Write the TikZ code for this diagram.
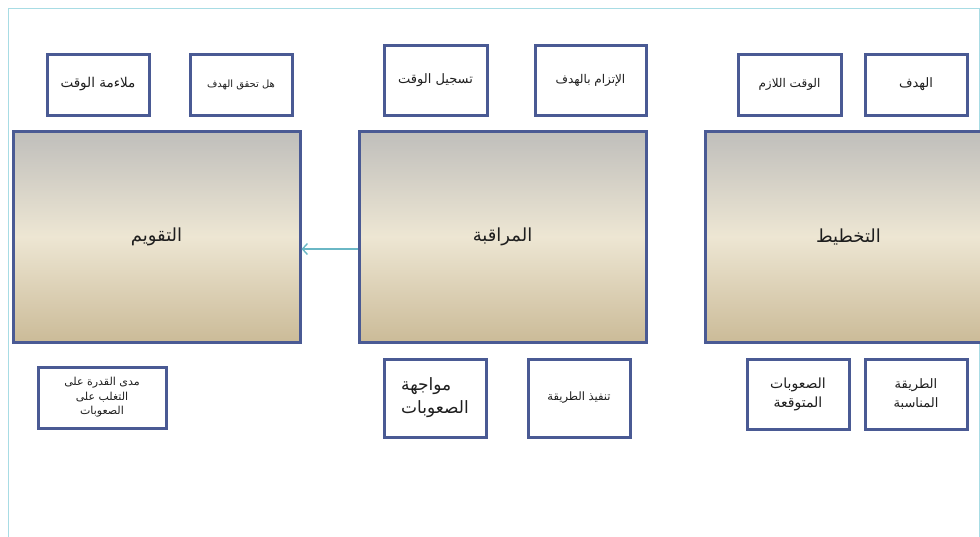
\documentclass[tikz,border=0pt]{standalone}
\usepackage{fontspec}
\usetikzlibrary{arrows.meta}
\newfontfamily\arabicfont[Script=Arabic]{DejaVu Sans}
\TeXXeTstate=1
\definecolor{boxline}{HTML}{4A5A94}
\definecolor{framecyan}{HTML}{A8DCE4}
\definecolor{flowcyan}{HTML}{6AB7C5}
\definecolor{textgray}{HTML}{1E1E1E}
\definecolor{shadetop}{HTML}{BFBEBB}
\definecolor{shademid}{HTML}{EDE6D3}
\definecolor{shadebot}{HTML}{CBBB98}

\begin{document}
\begin{tikzpicture}[x=1pt,y=-1pt,
  phase/.style={draw=boxline, line width=3pt, top color=shadetop,
    bottom color=shadebot, middle color=shademid, minimum width=287pt,
    minimum height=211pt, text=textgray,
    font=\arabicfont\fontsize{18}{22}\selectfont},
  item/.style={draw=boxline, line width=3pt, fill=white, minimum width=102pt,
    minimum height=61pt, align=center, text=textgray,
    font=\arabicfont\fontsize{12}{16}\selectfont},
  flow/.style={-{Straight Barb[length=5pt,width=11pt]}, draw=flowcyan, line width=1.4pt}]
\useasboundingbox (0,0) rectangle (980,536);
\clip (0,0) rectangle (980,536);
\draw[framecyan, line width=0.8pt] (8,540) -- (8,8) -- (979,8) -- (979,540);

% main phases
\node[phase] (eval) at (156.5,236.5) {\beginR التقويم\endR};
\node[phase] (monitor) at (502.5,236.5) {\beginR المراقبة\endR};
\node[phase] (plan) at (848.5,236.5) {\beginR التخطيط\endR};

% items above
\node[item, font=\arabicfont\fontsize{13.5}{16}\selectfont] (timefit) at (98,84.5) {\beginR ملاءمة الوقت\endR};
\node[item, font=\arabicfont\fontsize{10}{12}\selectfont] (goalmet) at (241,84.5) {\beginR هل تحقق الهدف\endR};
\node[item, minimum width=103pt, minimum height=70pt, font=\arabicfont\fontsize{13}{16}\selectfont] (timelog) at (435.5,80) {\beginR تسجيل الوقت\endR};
\node[item, minimum width=111pt, minimum height=70pt] (commit) at (590.5,80) {\beginR الإتزام بالهدف\endR};
\node[item, minimum width=103pt] (timeneed) at (789.5,84.5) {\beginR الوقت اللازم\endR};
\node[item, font=\arabicfont\fontsize{13}{16}\selectfont] (goal) at (916,84.5) {\beginR الهدف\endR};

% items below
\node[item, minimum width=128pt, inner sep=1pt, font=\arabicfont\fontsize{11}{14.5}\selectfont] (ability) at (102,397.5)
     {\beginR مدى القدرة على\endR\\\beginR التغلب على\endR\\\beginR الصعوبات\endR};
\node[item, minimum height=78pt, align=left, font=\arabicfont\fontsize{17}{23}\selectfont] (facing) at (435,398)
     {\beginR مواجهة\endR\\\beginR الصعوبات\endR};
\node[item, minimum height=78pt, font=\arabicfont\fontsize{11.5}{14}\selectfont] (apply) at (579,398) {\beginR تنفيذ الطريقة\endR};
\node[item, minimum height=70pt, font=\arabicfont\fontsize{14}{19}\selectfont] (expected) at (798,394)
     {\beginR الصعوبات\endR\\\beginR المتوقعة\endR};
\node[item, minimum height=70pt, font=\arabicfont\fontsize{13}{19}\selectfont] (method) at (916,394)
     {\beginR الطريقة\endR\\\beginR المناسبة\endR};

\draw[flow] ([yshift=-12.5pt]monitor.west) -- ([yshift=-12.5pt]eval.east);
\end{tikzpicture}
\end{document}
